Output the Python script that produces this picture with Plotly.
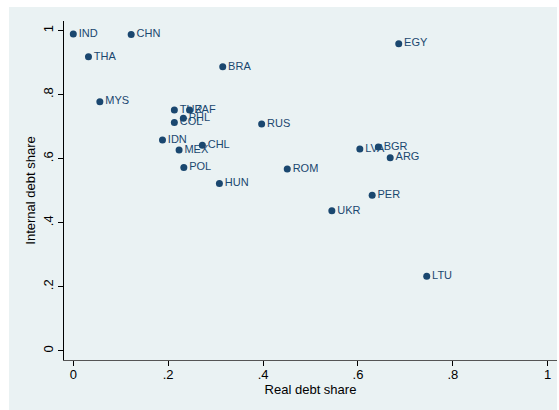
import plotly.graph_objects as go

# Country codes with their real and internal debt shares
countries = ["IND", "CHN", "THA", "BRA", "EGY", "MYS", "TUR", "ZAF", "PHL", "COL",
             "RUS", "IDN", "CHL", "MEX", "LVA", "BGR", "ARG", "POL", "ROM", "HUN",
             "PER", "UKR", "LTU"]
real_share = [0.000, 0.122, 0.032, 0.315, 0.686, 0.056, 0.213, 0.245, 0.232, 0.213,
              0.397, 0.188, 0.272, 0.223, 0.604, 0.643, 0.668, 0.233, 0.451, 0.308,
              0.630, 0.545, 0.745]
internal_share = [0.989, 0.988, 0.918, 0.887, 0.959, 0.778, 0.752, 0.752, 0.726, 0.713,
                  0.708, 0.658, 0.642, 0.627, 0.630, 0.636, 0.603, 0.572, 0.568, 0.522,
                  0.486, 0.437, 0.233]

tick_vals = [0, 0.2, 0.4, 0.6, 0.8, 1]
tick_text = ["0", ".2", ".4", ".6", ".8", "1"]

NAVY = "#1A476F"
BG = "#EAF2F3"
FONT = "Liberation Sans, Arial, Helvetica, sans-serif"

fig = go.Figure(
    go.Scatter(
        x=real_share,
        y=internal_share,
        mode="markers+text",
        text=countries,
        textposition="middle right",
        textfont=dict(family=FONT, size=11, color=NAVY),
        marker=dict(size=7, color=NAVY, line=dict(width=0)),
        cliponaxis=False,
        hoverinfo="skip",
    )
)

# light outer graph region behind the white plot region
fig.add_shape(type="rect", xref="paper", yref="paper",
              x0=-0.1116, x1=1.0, y0=-0.16, y1=1.0413,
              fillcolor=BG, line=dict(width=0), layer="below")

fig.update_layout(
    width=559,
    height=410,
    margin=dict(l=64, r=2, t=21, b=50),
    paper_bgcolor="white",
    plot_bgcolor="white",
    showlegend=False,
    font=dict(family=FONT, color="black"),
)

fig.update_xaxes(
    range=[-0.0196, 1.0196],
    tickvals=tick_vals,
    ticktext=tick_text,
    ticks="outside",
    ticklen=5,
    tickcolor="black",
    tickfont=dict(size=13),
    ticklabelstandoff=-3,
    showgrid=False,
    zeroline=False,
    showline=True,
    linecolor="#555555",
    linewidth=1,
    title=dict(text="Real debt share", font=dict(size=13), standoff=0),
)

fig.update_yaxes(
    range=[-0.029, 1.030],
    tickvals=tick_vals,
    ticktext=tick_text,
    tickangle=-90,
    ticks="outside",
    ticklen=5,
    tickcolor="black",
    tickfont=dict(size=13),
    showgrid=True,
    gridcolor=BG,
    gridwidth=1,
    zeroline=False,
    showline=True,
    linecolor="black",
    linewidth=1,
    title=dict(text="Internal debt share", font=dict(size=13), standoff=2),
)

fig.write_html("out.html")
